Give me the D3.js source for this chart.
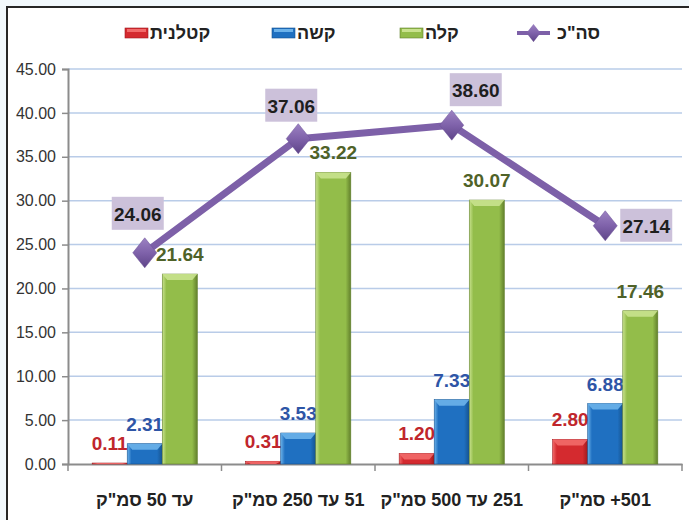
<!DOCTYPE html>
<html>
<head>
<meta charset="utf-8">
<script src="https://cdn.jsdelivr.net/npm/d3@7"></script>
<style>
  html, body { margin: 0; padding: 0; background: #F1F8FC; }
  svg { display: block; }
  text { font-family: "Liberation Sans Narrow", "Liberation Sans", Arial, sans-serif; }
</style>
</head>
<body>
<svg id="chart" width="689" height="520"></svg>
<script>
// chart data
var categories = ['עד 50 סמ"ק', '51 עד 250 סמ"ק', '251 עד 500 סמ"ק', '501+ סמ"ק'];
var seriesNames = ['קטלנית', 'קשה', 'קלה'];
var fatal = [0.11, 0.31, 1.20, 2.80];
var severe = [2.31, 3.53, 7.33, 6.88];
var light = [21.64, 33.22, 30.07, 17.46];
var totalName = 'סה"כ';
var total = [24.06, 37.06, 38.60, 27.14];
var yTicks = [0, 5, 10, 15, 20, 25, 30, 35, 40, 45];

var barSeries = [
  { name: seriesNames[0], values: fatal,  base: '#D42A2F', light: '#F26A6A', dark: '#9E1A1E', label: '#C0262C' },
  { name: seriesNames[1], values: severe, base: '#1F70C1', light: '#6CB2EA', dark: '#16538F', label: '#2E55A6' },
  { name: seriesNames[2], values: light,  base: '#93BD4A', light: '#C9E28E', dark: '#62802C', label: '#4F6228' }
];

var svg = d3.select('#chart');
var defs = svg.append('defs');

// white chart box with dark border
svg.append('rect')
  .attr('x', 7).attr('y', 7)
  .attr('width', 700).attr('height', 530)
  .attr('fill', '#fff')
  .attr('stroke', '#262626')
  .attr('stroke-width', 2);

var plot = { left: 68, right: 682, top: 69, bottom: 464 };

var x = d3.scaleBand().domain(categories).range([plot.left, plot.right]);
var x1 = d3.scaleBand().domain(seriesNames).range([0, x.bandwidth()]).paddingOuter(0.69);
var y = d3.scaleLinear().domain([0, 45]).range([plot.bottom, plot.top]);

// gradients for the bars
barSeries.forEach(function(s, i) {
  var g = defs.append('linearGradient').attr('id', 'bar' + i)
    .attr('x1', 0).attr('x2', 1).attr('y1', 0).attr('y2', 0);
  g.append('stop').attr('offset', '0%').attr('stop-color', s.light);
  g.append('stop').attr('offset', '12%').attr('stop-color', s.base);
  g.append('stop').attr('offset', '85%').attr('stop-color', s.base);
  g.append('stop').attr('offset', '100%').attr('stop-color', s.dark);
});
var dg = defs.append('linearGradient').attr('id', 'diamond')
  .attr('x1', 0).attr('x2', 0).attr('y1', 0).attr('y2', 1);
dg.append('stop').attr('offset', '0%').attr('stop-color', '#9C82C2');
dg.append('stop').attr('offset', '50%').attr('stop-color', '#7F62AA');
dg.append('stop').attr('offset', '100%').attr('stop-color', '#5E4488');

// gridlines
svg.append('g').selectAll('line')
  .data(yTicks.filter(function(d) { return d > 0; }))
  .enter().append('line')
  .attr('x1', plot.left).attr('x2', plot.right)
  .attr('y1', function(d) { return y(d); })
  .attr('y2', function(d) { return y(d); })
  .attr('stroke', '#B9CCE8')
  .attr('stroke-width', 1.5);

// y axis
var yAxis = svg.append('g')
  .attr('transform', 'translate(' + plot.left + ',0)')
  .call(d3.axisLeft(y).tickValues(yTicks).tickFormat(d3.format('.2f')).tickSize(6).tickPadding(6));
yAxis.select('.domain').attr('stroke', '#8C8C8C').attr('stroke-width', 2);
yAxis.selectAll('.tick line').attr('stroke', '#8C8C8C').attr('stroke-width', 1.5);
yAxis.selectAll('.tick text')
  .attr('font-size', 16)
  .attr('font-family', '"Liberation Sans Narrow", "Liberation Sans", sans-serif')
  .attr('fill', '#333');

// x axis
var xAxis = svg.append('g')
  .attr('transform', 'translate(0,' + plot.bottom + ')')
  .call(d3.axisBottom(x).tickSize(0).tickPadding(29));
xAxis.select('.domain').attr('stroke', '#8C8C8C').attr('stroke-width', 2);
xAxis.selectAll('.tick text')
  .attr('font-size', 18)
  .attr('font-weight', 'bold')
  .attr('font-family', '"Liberation Sans Narrow", "Liberation Sans", sans-serif')
  .attr('fill', '#222')
  .attr('direction', 'rtl')
  .attr('text-anchor', 'middle');
// category separators
svg.append('g').selectAll('line')
  .data(categories.concat(['end']))
  .enter().append('line')
  .attr('x1', function(d, i) { return i < categories.length ? x(d) : plot.right; })
  .attr('x2', function(d, i) { return i < categories.length ? x(d) : plot.right; })
  .attr('y1', plot.bottom).attr('y2', plot.bottom + 7)
  .attr('stroke', '#8C8C8C').attr('stroke-width', 1.5);

// bars
barSeries.forEach(function(s, i) {
  var g = svg.append('g');
  var bw = x1.bandwidth();
  g.selectAll('rect')
    .data(s.values)
    .enter().append('rect')
    .attr('x', function(d, j) { return x(categories[j]) + x1(s.name); })
    .attr('y', function(d) { return y(d); })
    .attr('width', bw)
    .attr('height', function(d) { return y(0) - y(d); })
    .attr('fill', 'url(#bar' + i + ')')
    .attr('stroke', s.dark)
    .attr('stroke-width', 0.6);
  // top bevel
  g.selectAll('path.bevel')
    .data(s.values)
    .enter().append('path')
    .attr('class', 'bevel')
    .attr('d', function(d, j) {
      var x0 = x(categories[j]) + x1(s.name), y0 = y(d);
      var h = Math.min(6, y(0) - y(d));
      return 'M' + x0 + ',' + y0 + 'L' + (x0 + bw) + ',' + y0 +
        'L' + (x0 + bw - 5) + ',' + (y0 + h) + 'L' + (x0 + 5) + ',' + (y0 + h) + 'Z';
    })
    .attr('fill', s.light)
    .attr('opacity', 0.9);
  // value labels
  g.selectAll('text')
    .data(s.values)
    .enter().append('text')
    .attr('x', function(d, j) { return x(categories[j]) + x1(s.name) + bw / 2; })
    .attr('y', function(d) { return Math.min(y(d) - 13, y(0) - 9); })
    .attr('text-anchor', 'middle')
    .attr('font-size', 19)
    .attr('font-weight', 'bold')
    .attr('fill', s.label)
    .text(function(d) { return d3.format('.2f')(d); });
});

// total line
var cx = function(d, j) { return x(categories[j]) + x.bandwidth() / 2; };
svg.append('path')
  .datum(total)
  .attr('fill', 'none')
  .attr('stroke', '#7D60A8')
  .attr('stroke-width', 7)
  .attr('stroke-linejoin', 'round')
  .attr('d', d3.line().x(cx).y(function(d) { return y(d); }));

function diamondPath(w, h) {
  return 'M0,' + (-h) + 'L' + w + ',0L0,' + h + 'L' + (-w) + ',0Z';
}
svg.append('g').selectAll('path')
  .data(total)
  .enter().append('path')
  .attr('transform', function(d, j) { return 'translate(' + cx(d, j) + ',' + y(d) + ')'; })
  .attr('d', diamondPath(12, 15))
  .attr('fill', 'url(#diamond)')
  .attr('stroke', '#6A5096')
  .attr('stroke-width', 0.5);

// total labels in boxes (offsets as placed in the original)
var labelShift = [[-7, -39], [-7, -33], [24, -35], [41, 0]];
var tl = svg.append('g').selectAll('g')
  .data(total)
  .enter().append('g')
  .attr('transform', function(d, j) {
    return 'translate(' + (cx(d, j) + labelShift[j][0]) + ',' + (y(d) + labelShift[j][1]) + ')';
  });
tl.append('rect')
  .attr('x', -26).attr('y', -17).attr('width', 52).attr('height', 33)
  .attr('fill', '#CCC1DA');
tl.append('text')
  .attr('text-anchor', 'middle')
  .attr('y', 7)
  .attr('font-size', 19)
  .attr('font-weight', 'bold')
  .attr('fill', '#1E1E1E')
  .text(function(d) { return d3.format('.2f')(d); });

// legend
var legendItems = [
  { name: seriesNames[0], swatch: 0, x: 125 },
  { name: seriesNames[1], swatch: 1, x: 272 },
  { name: seriesNames[2], swatch: 2, x: 400 },
  { name: totalName, swatch: -1, x: 517 }
];
var lg = svg.append('g').selectAll('g')
  .data(legendItems)
  .enter().append('g')
  .attr('transform', function(d) { return 'translate(' + d.x + ',33)'; });
lg.each(function(d) {
  var g = d3.select(this);
  if (d.swatch >= 0) {
    var s = barSeries[d.swatch];
    g.append('rect').attr('x', 0).attr('y', -5).attr('width', 23).attr('height', 10)
      .attr('fill', s.base).attr('stroke', s.dark).attr('stroke-width', 0.6);
    g.append('rect').attr('x', 2).attr('y', -4).attr('width', 19).attr('height', 3)
      .attr('fill', s.light);
    g.append('text').attr('x', 25).attr('y', 6).attr('font-size', 18).attr('font-weight', 'bold')
      .attr('fill', '#222').attr('direction', 'rtl').attr('text-anchor', 'end').text(d.name);
  } else {
    g.append('line').attr('x1', 0).attr('x2', 33).attr('y1', 0).attr('y2', 0)
      .attr('stroke', '#7D60A8').attr('stroke-width', 4);
    g.append('path').attr('transform', 'translate(16.5,0)').attr('d', diamondPath(7, 9))
      .attr('fill', 'url(#diamond)');
    g.append('text').attr('x', 40).attr('y', 6).attr('font-size', 18).attr('font-weight', 'bold')
      .attr('fill', '#222').attr('direction', 'rtl').attr('text-anchor', 'end').text(d.name);
  }
});
</script>
</body>
</html>
